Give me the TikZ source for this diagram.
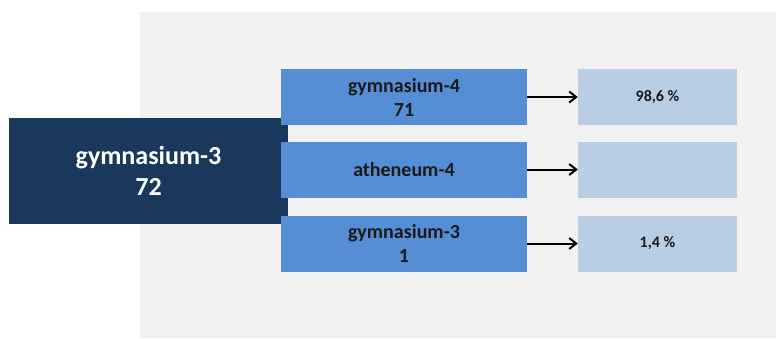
\documentclass[tikz,border=0pt]{standalone}
\usepackage{fontspec}
\setmainfont{Carlito}
\usetikzlibrary{arrows.meta}
\definecolor{bggray}{HTML}{F1F1F1}
\definecolor{navy}{HTML}{1A375C}
\definecolor{midblue}{HTML}{558ED5}
\definecolor{lightblue}{HTML}{B9CDE5}
\definecolor{txtdark}{HTML}{1A1A1A}
\begin{document}
\begin{tikzpicture}[x=1pt,y=-1pt,
  srcbox/.style={fill=navy,text=white,inner sep=0pt,minimum width=279pt,minimum height=106pt,align=center,font=\bfseries\fontsize{26}{31}\selectfont},
  midbox/.style={fill=midblue,text=txtdark,inner sep=0pt,minimum width=246pt,minimum height=56pt,align=center,font=\bfseries\fontsize{20}{24}\selectfont},
  pctbox/.style={fill=lightblue,text=txtdark,inner sep=0pt,minimum width=159pt,minimum height=56pt,align=center,font=\bfseries\fontsize{16}{19}\selectfont},
  arr/.style={line width=2pt,-{Straight Barb[length=7pt,width=11pt,line width=2pt]}}]
\useasboundingbox (0,0) rectangle (776,338);
\fill[bggray] (140,12) rectangle (776,338);
\node[srcbox] (src) at (148.5,171) {gymnasium-3\\72};
\node[midbox] (b1) at (404,97) {gymnasium-4\\71};
\node[midbox] (b2) at (404,169.5) {atheneum-4};
\node[midbox] (b3) at (404,243.5) {gymnasium-3\\1};
\node[pctbox] (l1) at (657.5,97) {98,6 \%};
\node[pctbox] (l2) at (657.5,169.5) {};
\node[pctbox] (l3) at (657.5,243.5) {1,4 \%};
\draw[arr] (b1.east) -- (l1.west);
\draw[arr] (b2.east) -- (l2.west);
\draw[arr] (b3.east) -- (l3.west);
\end{tikzpicture}
\end{document}
